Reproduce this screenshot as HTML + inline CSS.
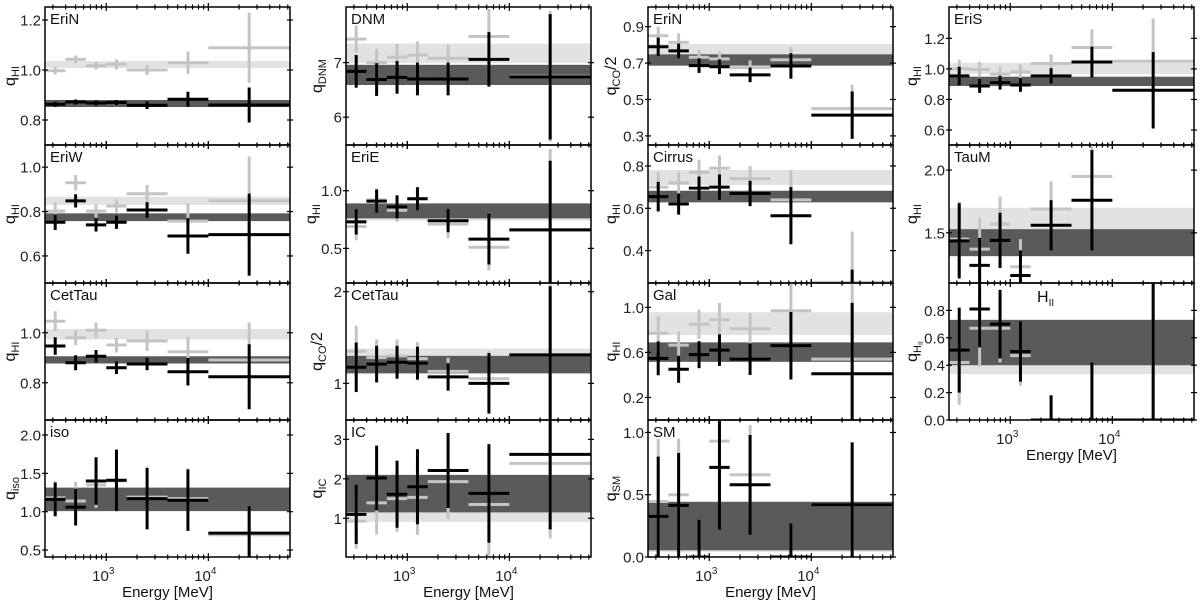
<!DOCTYPE html>
<html><head><meta charset="utf-8"><style>
html,body{margin:0;padding:0;background:#fff;}
svg{display:block;font-family:"Liberation Sans","DejaVu Sans",sans-serif;}
</style></head><body>
<svg id="fig" width="1200" height="609" viewBox="0 0 1200 609"></svg>
<script>
// ---------- data ----------
const binEdgesLog = [2.4, 2.6, 2.8, 3.0, 3.2, 3.6, 4.0, 4.8];
const xTickDecades = [3, 4];
const xTickLabels = ["10", "10"];
const xTickExps = ["3", "4"];

const eriN_black = [0.863,0.872,0.868,0.870,0.859,0.883,0.860];
const eriN_blackErr = [0.01,0.01,0.01,0.01,0.015,0.03,0.07];
const eriN_gray = [0.997,1.043,1.017,1.023,1.0,1.029,1.089];
const eriN_grayErr = [0.015,0.015,0.015,0.02,0.02,0.045,0.14];
const eriN_dark = [0.852,0.88]; const eriN_light = [1.008,1.036];

const eriW_black = [0.752,0.848,0.74,0.752,0.807,0.69,0.696];
const eriW_blackErr = [0.035,0.03,0.03,0.03,0.035,0.08,0.185];
const eriW_gray = [0.802,0.93,0.802,0.825,0.88,0.757,0.849];
const eriW_grayErr = [0.04,0.035,0.03,0.03,0.04,0.08,0.2];
const eriW_dark = [0.757,0.792]; const eriW_light = [0.83,0.867];

const cetTau1_black = [0.947,0.88,0.906,0.86,0.875,0.844,0.824];
const cetTau1_blackErr = [0.035,0.03,0.025,0.025,0.025,0.055,0.13];
const cetTau1_gray = [1.046,0.98,1.01,0.951,0.967,0.924,0.891];
const cetTau1_grayErr = [0.04,0.03,0.03,0.03,0.04,0.06,0.15];
const cetTau1_dark = [0.877,0.906]; const cetTau1_light = [0.973,1.015];

const iso_black = [1.16,1.06,1.40,1.41,1.17,1.15,0.72];
const iso_blackErr = [0.22,0.24,0.31,0.4,0.4,0.4,0.35];
const iso_gray = [1.18,1.14,1.35,1.40,1.19,1.17,0.70];
const iso_grayErr = [0.22,0.25,0.3,0.4,0.4,0.4,0.35];
const iso_dark = [1.009,1.313]; const iso_light = [1.0,1.32];

const dnm_black = [6.84,6.69,6.73,6.70,6.70,7.06,6.74];
const dnm_blackErr = [0.3,0.3,0.3,0.3,0.3,0.5,1.15];
const dnm_gray = [7.43,7.0,7.1,7.14,7.08,7.48,6.75];
const dnm_grayErr = [0.25,0.25,0.25,0.25,0.25,0.5,1.2];
const dnm_dark = [6.59,6.96]; const dnm_light = [6.99,7.35];

const eriE_black = [0.73,0.91,0.86,0.93,0.74,0.58,0.66];
const eriE_blackErr = [0.11,0.1,0.1,0.1,0.1,0.22,0.6];
const eriE_gray = [0.69,0.92,0.83,0.93,0.71,0.51,0.66];
const eriE_grayErr = [0.12,0.1,0.1,0.1,0.12,0.2,0.7];
const eriE_dark = [0.76,0.89]; const eriE_light = [0.74,0.88];

const cetTau2_black = [1.175,1.21,1.23,1.22,1.07,1.0,1.31];
const cetTau2_blackErr = [0.27,0.2,0.18,0.18,0.15,0.33,0.75];
const cetTau2_gray = [1.35,1.28,1.30,1.27,1.13,1.05,1.31];
const cetTau2_grayErr = [0.28,0.2,0.18,0.18,0.15,0.3,0.8];
const cetTau2_dark = [1.11,1.30]; const cetTau2_light = [1.10,1.38];

const ic_black = [1.10,2.02,1.61,1.80,2.21,1.63,2.62];
const ic_blackErr = [0.75,0.82,0.85,0.95,0.95,1.25,1.9];
const ic_gray = [0.93,1.39,1.5,1.53,1.93,1.35,2.39];
const ic_grayErr = [0.7,0.8,0.85,0.95,0.95,1.3,1.9];
const ic_dark = [1.15,2.10]; const ic_light = [0.91,2.10];

const eriNco_black = [0.79,0.767,0.686,0.68,0.635,0.684,0.414];
const eriNco_blackErr = [0.05,0.04,0.04,0.04,0.04,0.07,0.13];
const eriNco_gray = [0.85,0.814,0.732,0.723,0.675,0.718,0.45];
const eriNco_grayErr = [0.05,0.05,0.04,0.04,0.04,0.07,0.13];
const eriNco_dark = [0.686,0.748]; const eriNco_light = [0.686,0.805];

const cirrus_black = [0.655,0.62,0.695,0.70,0.67,0.565,0.15];
const cirrus_blackErr = [0.07,0.05,0.055,0.06,0.06,0.135,0.16];
const cirrus_gray = [0.70,0.72,0.77,0.79,0.74,0.64,0.25];
const cirrus_grayErr = [0.07,0.05,0.06,0.06,0.06,0.14,0.24];
const cirrus_dark = [0.628,0.683]; const cirrus_light = [0.71,0.781];

const gal_black = [0.547,0.45,0.58,0.62,0.54,0.66,0.41];
const gal_blackErr = [0.15,0.12,0.12,0.14,0.14,0.3,0.63];
const gal_gray = [0.77,0.665,0.85,0.89,0.81,0.97,0.54];
const gal_grayErr = [0.15,0.12,0.13,0.15,0.14,0.3,0.7];
const gal_dark = [0.516,0.689]; const gal_light = [0.754,0.956];

const sm_black = [0.326,0.415,0.0,0.72,0.58,0.0,0.42];
const sm_blackErr = [0.48,0.42,0.3,0.5,0.4,0.27,0.5];
const sm_gray = [0.446,0.5,0.0,0.93,0.66,0.0,0.42];
const sm_grayErr = [0.5,0.45,0.3,0.5,0.4,0.27,0.5];
const sm_dark = [0.054,0.442]; const sm_light = [0.04,0.45];

const eriS_black = [0.954,0.888,0.91,0.895,0.954,1.045,0.86];
const eriS_blackErr = [0.06,0.045,0.045,0.045,0.05,0.1,0.25];
const eriS_gray = [1.0,0.996,0.966,0.98,1.035,1.14,1.05];
const eriS_grayErr = [0.06,0.05,0.05,0.05,0.06,0.12,0.28];
const eriS_dark = [0.888,0.949]; const eriS_light = [0.967,1.04];

const tauM_black = [1.436,1.24,1.44,1.16,1.56,1.76,0.5];
const tauM_blackErr = [0.3,0.22,0.22,0.2,0.2,0.4,0.3];
const tauM_gray = [1.45,1.37,1.57,1.23,1.69,1.95,0.5];
const tauM_grayErr = [0.3,0.25,0.22,0.22,0.22,0.4,0.3];
const tauM_dark = [1.314,1.529]; const tauM_light = [1.314,1.70];

const hii_black = [0.51,0.81,0.70,0.50,0.0,0.0,0.0];
const hii_blackErr = [0.31,0.28,0.25,0.22,0.18,0.42,1.0];
const hii_gray = [0.42,0.67,0.67,0.47,0.0,0.0,0.0];
const hii_grayErr = [0.31,0.28,0.25,0.22,0.18,0.42,1.0];
const hii_dark = [0.40,0.731]; const hii_light = [0.334,0.731];

// ---------- layout ----------
const colX = [45, 346, 648, 949];
const PW = 245;
const rowY = [7, 145, 283, 420, 557];

const panels = [
 {id:"erin-hi", c:0,r:0,label:"EriN",sub:"HI",ymin:0.70,ymax:1.252,ticks:[0.8,1.0,1.2],fmt:1,lo:30,b:eriN_black,be:eriN_blackErr,g:eriN_gray,ge:eriN_grayErr,d:eriN_dark,l:eriN_light},
 {id:"eriw-hi", c:0,r:1,label:"EriW",sub:"HI",ymin:0.478,ymax:1.10,ticks:[0.6,0.8,1.0],fmt:1,lo:30,b:eriW_black,be:eriW_blackErr,g:eriW_gray,ge:eriW_grayErr,d:eriW_dark,l:eriW_light},
 {id:"cettau-hi", c:0,r:2,label:"CetTau",sub:"HI",ymin:0.651,ymax:1.199,ticks:[0.8,1.0],fmt:1,lo:30,b:cetTau1_black,be:cetTau1_blackErr,g:cetTau1_gray,ge:cetTau1_grayErr,d:cetTau1_dark,l:cetTau1_light},
 {id:"iso", c:0,r:3,label:"iso",sub:"iso",ymin:0.409,ymax:2.196,ticks:[0.5,1.0,1.5,2.0],fmt:1,lo:30,b:iso_black,be:iso_blackErr,g:iso_gray,ge:iso_grayErr,d:iso_dark,l:iso_light},
 {id:"dnm", c:1,r:0,label:"DNM",sub:"DNM",ymin:5.49,ymax:8.02,ticks:[6,7],fmt:0,lo:24,b:dnm_black,be:dnm_blackErr,g:dnm_gray,ge:dnm_grayErr,d:dnm_dark,l:dnm_light},
 {id:"erie-hi", c:1,r:1,label:"EriE",sub:"HI",ymin:0.2,ymax:1.396,ticks:[0.5,1.0],fmt:1,lo:30,b:eriE_black,be:eriE_blackErr,g:eriE_gray,ge:eriE_grayErr,d:eriE_dark,l:eriE_light},
 {id:"cettau-co", c:1,r:2,label:"CetTau",sub:"CO",post:"/2",ymin:0.6,ymax:2.095,ticks:[1,2],fmt:0,lo:24,b:cetTau2_black,be:cetTau2_blackErr,g:cetTau2_gray,ge:cetTau2_grayErr,d:cetTau2_dark,l:cetTau2_light},
 {id:"ic", c:1,r:3,label:"IC",sub:"IC",ymin:0.02,ymax:3.49,ticks:[1,2,3],fmt:0,lo:24,b:ic_black,be:ic_blackErr,g:ic_gray,ge:ic_grayErr,d:ic_dark,l:ic_light},
 {id:"erin-co", c:2,r:0,label:"EriN",sub:"CO",post:"/2",ymin:0.25,ymax:1.008,ticks:[0.3,0.5,0.7,0.9],fmt:1,lo:32,b:eriNco_black,be:eriNco_blackErr,g:eriNco_gray,ge:eriNco_grayErr,d:eriNco_dark,l:eriNco_light},
 {id:"cirrus-hi", c:2,r:1,label:"Cirrus",sub:"HI",ymin:0.247,ymax:0.899,ticks:[0.4,0.6,0.8],fmt:1,lo:32,b:cirrus_black,be:cirrus_blackErr,g:cirrus_gray,ge:cirrus_grayErr,d:cirrus_dark,l:cirrus_light},
 {id:"gal-hi", c:2,r:2,label:"Gal",sub:"HI",ymin:0.0,ymax:1.216,ticks:[0.2,0.6,1.0],fmt:1,lo:32,b:gal_black,be:gal_blackErr,g:gal_gray,ge:gal_grayErr,d:gal_dark,l:gal_light},
 {id:"sm", c:2,r:3,label:"SM",sub:"SM",ymin:0.0,ymax:1.10,ticks:[0.0,0.5,1.0],fmt:1,lo:32,b:sm_black,be:sm_blackErr,g:sm_gray,ge:sm_grayErr,d:sm_dark,l:sm_light},
 {id:"eris-hi", c:3,r:0,label:"EriS",sub:"HI",ymin:0.502,ymax:1.405,ticks:[0.6,0.8,1.0,1.2],fmt:1,lo:32,b:eriS_black,be:eriS_blackErr,g:eriS_gray,ge:eriS_grayErr,d:eriS_dark,l:eriS_light},
 {id:"taum-hi", c:3,r:1,label:"TauM",sub:"HI",ymin:1.10,ymax:2.2,ticks:[1.5,2.0],fmt:1,lo:32,b:tauM_black,be:tauM_blackErr,g:tauM_gray,ge:tauM_grayErr,d:tauM_dark,l:tauM_light},
 {id:"hii", c:3,r:2,label:null,sub:"HII",ymin:0.0,ymax:1.0,ticks:[0.0,0.2,0.4,0.6,0.8],fmt:1,lo:32,b:hii_black,be:hii_blackErr,g:hii_gray,ge:hii_grayErr,d:hii_dark,l:hii_light,bottom:true},
];
const bottomIds = ["iso","ic","sm","hii"];

const NS = "http://www.w3.org/2000/svg";
const svg = document.getElementById("fig");
function mk(tag, attrs, parent){
  const e = document.createElementNS(NS, tag);
  for (const k in attrs) e.setAttribute(k, attrs[k]);
  (parent||svg).appendChild(e);
  return e;
}
const LOGMIN = 2.4, LOGMAX = 4.8;

panels.forEach((p, pi) => {
  const x0 = colX[p.c], y0 = rowY[p.r], y1 = rowY[p.r+1], x1 = x0 + PW;
  const xs = lg => x0 + (lg - LOGMIN) / (LOGMAX - LOGMIN) * PW;
  const ys = v => y1 - (v - p.ymin) / (p.ymax - p.ymin) * (y1 - y0);
  const g = mk("g", {});
  
  
  const cid = "clip" + pi;
  const cp = mk("clipPath", {id: cid}, g);
  mk("rect", {x:x0, y:y0, width:PW, height:y1-y0}, cp);
  const plot = mk("g", {"clip-path": "url(#"+cid+")"}, g);
  const lb = mk("rect", {x:x0, y:ys(p.l[1]), width:PW, height:ys(p.l[0])-ys(p.l[1]), fill:"#e2e2e2"}, plot);
  
  
  const db = mk("rect", {x:x0, y:ys(p.d[1]), width:PW, height:ys(p.d[0])-ys(p.d[1]), fill:"#5a5a5a"}, plot);
  
  
  [[p.g, p.ge, "#c4c4c4", "gray-point"], [p.b, p.be, "#000", "black-point"]].forEach(([vals, errs, col, nm]) => {
    vals.forEach((v, i) => {
      const xa = xs(binEdgesLog[i]), xb = xs(binEdgesLog[i+1]);
      const xc = xs((binEdgesLog[i] + binEdgesLog[i+1]) / 2);
      const pg = mk("g", {stroke: col, "stroke-width": 3}, plot);
      
      
      mk("line", {x1:xa, x2:xb, y1:ys(v), y2:ys(v)}, pg);
      mk("line", {x1:xc, x2:xc, y1:ys(v+errs[i]), y2:ys(v-errs[i])}, pg);
    });
  });
  mk("rect", {x:x0, y:y0, width:PW, height:y1-y0, fill:"none", stroke:"#000", "stroke-width":1.5}, g);
  for (let d = 2; d <= 4; d++) {
    for (let m = 1; m <= 9; m++) {
      const lg = d + Math.log10(m);
      if (lg < LOGMIN || lg > LOGMAX) continue;
      const x = xs(lg), len = m === 1 ? 4 : 2.5;
      mk("line", {x1:x, x2:x, y1:y0-len, y2:y0+len, stroke:"#000", "stroke-width":1.2}, g);
      mk("line", {x1:x, x2:x, y1:y1-len, y2:y1+len, stroke:"#000", "stroke-width":1.2}, g);
    }
  }
  p.ticks.forEach(t => {
    const y = ys(t);
    mk("line", {x1:x0-3, x2:x0+3, y1:y, y2:y, stroke:"#000", "stroke-width":1.2}, g);
    mk("line", {x1:x1-3, x2:x1+3, y1:y, y2:y, stroke:"#000", "stroke-width":1.2}, g);
    const tt = mk("text", {x:x0-4, y:y+5.5, "text-anchor":"end", "font-size":15, fill:"#222"}, g);
    tt.textContent = t.toFixed(p.fmt);
    
    
  });
  if (p.label) {
    const lt = mk("text", {x:x0+5, y:y0+17, "font-size":15, fill:"#111"}, g);
    lt.textContent = p.label;
    
    
  } else {
    const lt = mk("text", {x:x0+88, y:y0+19, "font-size":16, fill:"#111"}, g);
    
    
    const a = mk("tspan", {}, lt); a.textContent = "H";
    const b = mk("tspan", {"font-size":10, dy:4}, lt); b.textContent = "II";
  }
  const ymid = (y0 + y1) / 2, lx = x0 - p.lo;
  const yl = mk("text", {x:lx, y:ymid, "text-anchor":"middle", "font-size":16, fill:"#111", transform:"rotate(-90 "+lx+" "+ymid+")"}, g);
  
  
  const q = mk("tspan", {}, yl); q.textContent = "q";
  if (p.sub === "HII") {
    const s = mk("tspan", {"font-size":11, dy:4}, yl); s.textContent = "H";
    const s2 = mk("tspan", {"font-size":7, dy:2}, yl); s2.textContent = "II";
  } else {
    const s = mk("tspan", {"font-size":11, dy:4}, yl); s.textContent = p.sub;
    if (p.post) { const s3 = mk("tspan", {dy:-4}, yl); s3.textContent = p.post; }
  }
  if (bottomIds.includes(p.id)) {
    xTickDecades.forEach((d, k) => {
      const x = xs(d);
      const xt = mk("text", {x:x-3, y:y1+24, "text-anchor":"middle", "font-size":15, fill:"#222"}, g);
      
      
      const a = mk("tspan", {}, xt); a.textContent = xTickLabels[k];
      const b = mk("tspan", {"font-size":10, dy:-7}, xt); b.textContent = xTickExps[k];
    });
    const xl = mk("text", {x:x0+PW/2, y:y1+40, "text-anchor":"middle", "font-size":15, fill:"#111"}, g);
    xl.textContent = "Energy [MeV]";
    
    
  }
});
</script>
</body></html>
